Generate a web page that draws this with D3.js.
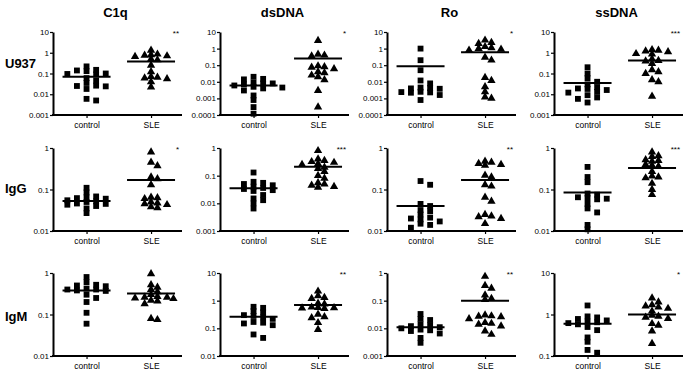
<!DOCTYPE html>
<meta charset="utf-8">
<style>
  body { margin: 0; padding: 0; background-color: #fff; }
  text { font-family: "Liberation Sans", Arial, sans-serif; fill: #000; }
  .title { font-size: 13px; font-weight: bold; }
  .rowlab { font-size: 13px; font-weight: bold; }
  .tick text { font-size: 8px; }
  .xax .tick text { font-size: 8.5px; }
  .star { font-size: 8px; }
</style>
<script src="https://d3js.org/d3.v7.min.js"></script>
<body>
<div id="chart"></div>
<script>
var antigens = ["C1q", "dsDNA", "Ro", "ssDNA"];
var isotypes = ["U937", "IgG", "IgM"];
var groups = ["control", "SLE"];
var tickValues = [0.0001, 0.001, 0.01, 0.1, 1, 10];
var tickLabels = ["0.0001", "0.001", "0.01", "0.1", "1", "10"];

// y ranges per row, one per antigen
var u937Domains = [[0.001, 10], [0.0001, 10], [0.0001, 10], [0.001, 10]];
var iggDomains  = [[0.01, 1], [0.001, 1], [0.01, 1], [0.01, 1]];
var igmDomains  = [[0.01, 1], [0.01, 10], [0.001, 1], [0.1, 10]];

// significance marks
var u937Stars = ["**", "*", "*", "***"];
var iggStars  = ["*", "***", "**", "***"];
var igmStars  = ["", "**", "**", "*"];

// horizontal bars [control, SLE]
var u937Lines = [[0.07, 0.38], [0.006, 0.25], [0.085, 0.6], [0.035, 0.42]];
var iggLines  = [[0.053, 0.17], [0.035, 0.21], [0.04, 0.17], [0.085, 0.33]];
var igmLines  = [[0.38, 0.32], [0.26, 0.7], [0.011, 0.1], [0.6, 1.0]];

// U937
var u937C1qControl = [0.22, 0.15, 0.14, 0.13, 0.1, 0.095, 0.09, 0.06, 0.045, 0.035, 0.026, 0.025, 0.024, 0.018, 0.006, 0.005];
var u937C1qSle = [1.3, 0.85, 0.8, 0.75, 0.7, 0.65, 0.5, 0.45, 0.25, 0.12, 0.07, 0.065, 0.06, 0.055, 0.04, 0.022];
var u937DsControl = [0.02, 0.015, 0.014, 0.009, 0.008, 0.007, 0.008, 0.006, 0.005, 0.0045, 0.004, 0.003, 0.0015, 0.0008, 0.0003, 0.00012];
var u937DsSle = [3, 0.45, 0.4, 0.35, 0.09, 0.08, 0.075, 0.06, 0.04, 0.035, 0.025, 0.02, 0.013, 0.003, 0.0003];
var u937RoControl = [1.0, 0.2, 0.05, 0.012, 0.008, 0.0045, 0.0042, 0.004, 0.0038, 0.0025, 0.0024, 0.0023, 0.0022, 0.0016, 0.0008];
var u937RoSle = [3.2, 2.3, 2.0, 1.3, 1.1, 1.0, 0.9, 0.8, 0.3, 0.2, 0.018, 0.012, 0.005, 0.0025, 0.0012, 0.001];
var u937SsControl = [0.2, 0.1, 0.06, 0.04, 0.03, 0.022, 0.019, 0.018, 0.016, 0.013, 0.012, 0.009, 0.007, 0.006, 0.004];
var u937SsSle = [1.4, 1.3, 1.2, 1.1, 0.9, 0.85, 0.5, 0.42, 0.4, 0.3, 0.15, 0.12, 0.1, 0.05, 0.04, 0.008];

// IgG
var iggC1qControl = [0.11, 0.085, 0.068, 0.065, 0.062, 0.06, 0.055, 0.052, 0.05, 0.046, 0.045, 0.043, 0.04, 0.035, 0.027];
var iggC1qSle = [0.8, 0.45, 0.37, 0.2, 0.18, 0.13, 0.065, 0.063, 0.06, 0.05, 0.047, 0.045, 0.043, 0.038, 0.036];
var iggDsControl = [0.13, 0.06, 0.055, 0.05, 0.045, 0.04, 0.036, 0.033, 0.03, 0.028, 0.02, 0.015, 0.013, 0.01, 0.0065];
var iggDsSle = [0.8, 0.4, 0.35, 0.32, 0.3, 0.27, 0.25, 0.2, 0.18, 0.14, 0.1, 0.08, 0.055, 0.05, 0.045, 0.04, 0.038];
var iggRoControl = [0.16, 0.13, 0.045, 0.04, 0.032, 0.03, 0.025, 0.021, 0.02, 0.019, 0.017, 0.015, 0.014, 0.012];
var iggRoSle = [0.48, 0.45, 0.42, 0.4, 0.38, 0.22, 0.2, 0.13, 0.12, 0.065, 0.052, 0.025, 0.023, 0.022, 0.02, 0.015];
var iggSsControl = [0.35, 0.2, 0.15, 0.08, 0.075, 0.065, 0.062, 0.06, 0.058, 0.045, 0.035, 0.028, 0.014, 0.011];
var iggSsSle = [0.8, 0.65, 0.62, 0.52, 0.5, 0.48, 0.4, 0.38, 0.36, 0.27, 0.21, 0.2, 0.19, 0.14, 0.1, 0.075];

// IgM
var igmC1qControl = [0.8, 0.6, 0.52, 0.5, 0.48, 0.42, 0.4, 0.4, 0.38, 0.37, 0.3, 0.25, 0.2, 0.11, 0.06];
var igmC1qSle = [0.95, 0.52, 0.45, 0.4, 0.35, 0.3, 0.27, 0.26, 0.26, 0.25, 0.24, 0.22, 0.21, 0.18, 0.08, 0.075];
var igmDsControl = [0.6, 0.55, 0.42, 0.38, 0.3, 0.28, 0.25, 0.22, 0.17, 0.16, 0.15, 0.13, 0.06, 0.045];
var igmDsSle = [2.2, 1.5, 1.3, 1.2, 0.8, 0.75, 0.58, 0.56, 0.55, 0.54, 0.52, 0.32, 0.26, 0.24, 0.16, 0.09];
var igmRoControl = [0.033, 0.022, 0.02, 0.014, 0.013, 0.012, 0.011, 0.01, 0.009, 0.0085, 0.008, 0.0065, 0.0045, 0.003];
var igmRoSle = [0.75, 0.35, 0.28, 0.16, 0.12, 0.11, 0.03, 0.028, 0.027, 0.026, 0.022, 0.016, 0.015, 0.014, 0.012, 0.008, 0.006];
var igmSsControl = [1.65, 0.9, 0.85, 0.78, 0.72, 0.68, 0.65, 0.62, 0.58, 0.5, 0.42, 0.28, 0.22, 0.14, 0.12];
var igmSsSle = [2.5, 2.0, 1.7, 1.6, 1.5, 1.4, 1.2, 0.95, 0.9, 0.85, 0.8, 0.6, 0.55, 0.4, 0.2];

var rowData = [
  [[u937C1qControl, u937C1qSle], [u937DsControl, u937DsSle], [u937RoControl, u937RoSle], [u937SsControl, u937SsSle]],
  [[iggC1qControl, iggC1qSle], [iggDsControl, iggDsSle], [iggRoControl, iggRoSle], [iggSsControl, iggSsSle]],
  [[igmC1qControl, igmC1qSle], [igmDsControl, igmDsSle], [igmRoControl, igmRoSle], [igmSsControl, igmSsSle]]
];
var rowDomains = [u937Domains, iggDomains, igmDomains];
var rowStars = [u937Stars, iggStars, igmStars];
var rowLines = [u937Lines, iggLines, igmLines];

var W = 686, H = 373;
var colX = [53, 220, 387, 554];
var rowY = [32, 148, 273];
var pw = 129, ph = 83;

var svg = d3.select("#chart").append("svg")
    .attr("width", W)
    .attr("height", H);

// column titles
svg.selectAll(".title")
  .data(antigens)
  .enter().append("text")
    .attr("class", "title")
    .attr("x", function(d, i) { return colX[i] + pw / 2 - 2; })
    .attr("y", 17)
    .attr("text-anchor", "middle")
    .text(function(d) { return d; });

// row labels
svg.selectAll(".rowlab")
  .data(isotypes)
  .enter().append("text")
    .attr("class", "rowlab")
    .attr("x", 5)
    .attr("y", function(d, i) { return [68, 193, 321][i]; })
    .text(function(d) { return d; });

// simple beeswarm so close values sit side by side
function dodge(vals, y, cx, gap, dyMin) {
  var pts = vals.map(function(v) { return { v: v, y: y(v) }; })
    .sort(function(a, b) { return a.y - b.y; });
  var placed = [];
  pts.forEach(function(p) {
    for (var k = 0; k < 40; k++) {
      var off = k === 0 ? 0 : (k % 2 ? 1 : -1) * Math.ceil(k / 2) * gap / 2;
      var hit = placed.some(function(q) {
        return Math.abs(q.y - p.y) < dyMin && Math.abs(q.x - (cx + off)) < gap;
      });
      if (!hit) { p.x = cx + off; break; }
    }
    placed.push(p);
  });
  return placed;
}

rowData.forEach(function(row, r) {
  row.forEach(function(pair, c) {
    var dom = rowDomains[r][c];
    var g = svg.append("g")
      .attr("transform", "translate(" + colX[c] + "," + rowY[r] + ")");

    var y = d3.scaleLog().domain(dom).range([ph, 0]);
    var x = d3.scalePoint().domain(groups).range([pw * 0.26, pw * 0.76]);

    var tv = tickValues.filter(function(t) { return t >= dom[0] - 1e-12 && t <= dom[1] + 1e-12; });

    // Y axis
    g.append("g")
      .call(d3.axisLeft(y).tickValues(tv).tickSize(3).tickSizeOuter(0)
        .tickFormat(function(d) { return tickLabels[tickValues.indexOf(d)]; }))
      .call(function(a) {
        a.select(".domain").attr("stroke-width", 2);
        a.selectAll(".tick line").attr("stroke-width", 1.2);
        a.selectAll(".tick text").attr("x", -4);
      });

    // X axis
    g.append("g")
      .attr("class", "xax")
      .attr("transform", "translate(0," + ph + ")")
      .call(d3.axisBottom(x).tickSize(3).tickSizeOuter(0))
      .call(function(a) {
        a.select(".domain").remove();
        a.selectAll(".tick line").attr("stroke-width", 1.2);
        a.selectAll(".tick text").attr("y", 7);
      });
    g.append("line")
      .attr("x1", -1).attr("x2", pw)
      .attr("y1", ph).attr("y2", ph)
      .attr("stroke", "#000").attr("stroke-width", 2);

    // points
    pair.forEach(function(vals, gi) {
      var pts = dodge(vals, y, x(groups[gi]), 6.4, 4.2);
      var sym = d3.symbol().type(gi === 0 ? d3.symbolSquare : d3.symbolTriangle).size(gi === 0 ? 34 : 30);
      g.selectAll(".pt" + gi)
        .data(pts)
        .enter().append("path")
          .attr("class", "pt" + gi)
          .attr("d", sym)
          .attr("transform", function(d) { return "translate(" + d.x + "," + d.y + ")"; })
          .attr("fill", "#000");
    });

    // bars
    g.selectAll(".bar")
      .data(rowLines[r][c])
      .enter().append("line")
        .attr("class", "bar")
        .attr("x1", function(d, i) { return x(groups[i]) - 24; })
        .attr("x2", function(d, i) { return x(groups[i]) + 24; })
        .attr("y1", function(d) { return y(d); })
        .attr("y2", function(d) { return y(d); })
        .attr("stroke", "#000")
        .attr("stroke-width", 2);

    // stars
    g.append("text")
      .attr("class", "star")
      .attr("x", pw - 3)
      .attr("y", 4)
      .attr("text-anchor", "end")
      .text(rowStars[r][c]);
  });
});
</script>
</body>
